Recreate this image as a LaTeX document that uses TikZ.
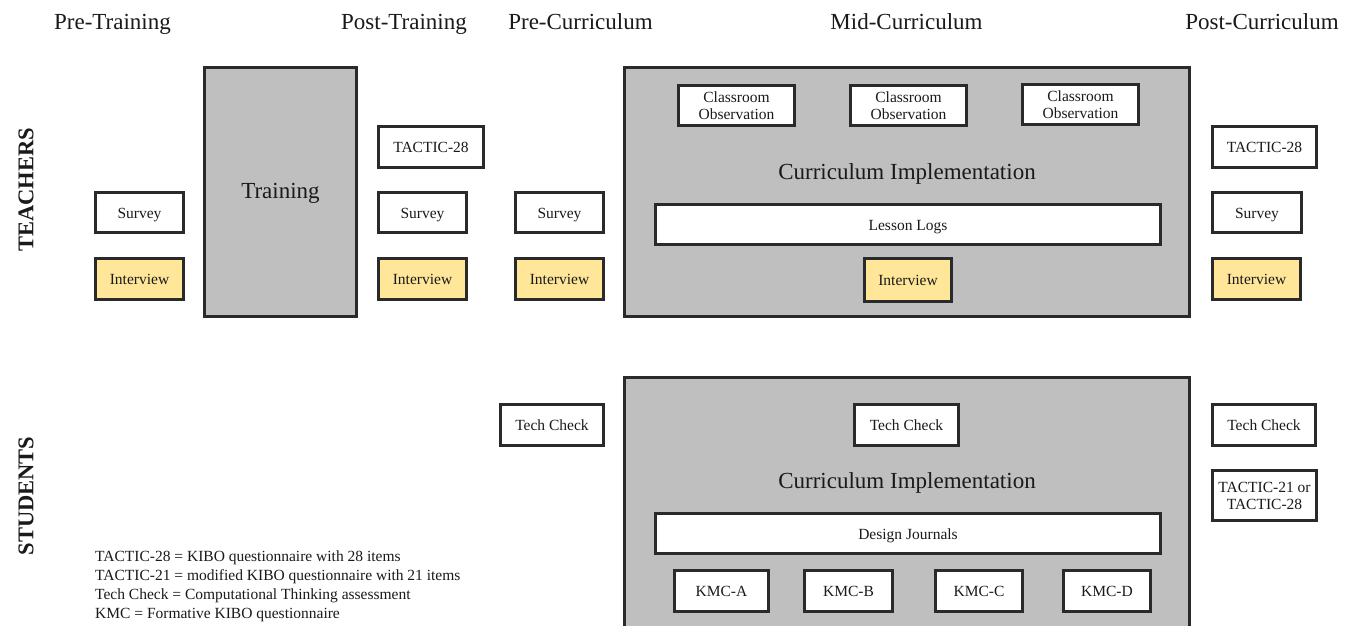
\documentclass[tikz,border=0pt]{standalone}
\usepackage{fontspec}
\setmainfont{Liberation Serif}
\definecolor{edge}{HTML}{2A2A2A}
\definecolor{panel}{HTML}{BFBFBF}
\definecolor{note}{HTML}{FFE699}
\definecolor{ink}{HTML}{1A1A1A}
\tikzset{
  boxbase/.style={draw=edge, line width=3pt, fill=white, rectangle, inner sep=0pt,
    text=ink, align=center, font=\fontsize{15.5}{17}\selectfont},
  % single-line boxes: fixed text box so descenders do not shift the label
  box/.style={boxbase, text height=11pt, text depth=0pt},
  twoline/.style={boxbase},
  yellowbox/.style={box, fill=note},
  phasebox/.style={draw=edge, line width=3pt, fill=panel, rectangle, inner sep=0pt},
  heading/.style={text=ink, font=\fontsize{23}{27}\selectfont, inner sep=0pt,
    text height=16.5pt, text depth=0pt},
  bigtitle/.style={text=ink, font=\fontsize{23}{27}\selectfont, inner sep=0pt,
    text height=15.5pt, text depth=0pt},
  grouplabel/.style={text=ink, font=\fontsize{22.5}{26}\selectfont\bfseries, rotate=90, inner sep=0pt},
}
\begin{document}
\begin{tikzpicture}[x=1pt, y=-1pt]
\clip (0,0) rectangle (1356,625);
\fill[white] (0,0) rectangle (1356,625);

% phase headings
\node[heading] (hPreT)  at (112.5,21) {Pre-Training};
\node[heading] (hPostT) at (404,21)   {Post-Training};
\node[heading] (hPreC)  at (580.5,21) {Pre-Curriculum};
\node[heading] (hMidC)  at (906.5,21) {Mid-Curriculum};
\node[heading] (hPostC) at (1262,21)  {Post-Curriculum};

% group labels
\node[grouplabel] (teachers) at (26,190) {TEACHERS};
\node[grouplabel] (students) at (26,496) {STUDENTS};

% ---------------- teachers ----------------
\node[phasebox, minimum width=152pt, minimum height=249pt] (training) at (280.5,192) {};
\node[bigtitle] (trainingT) at (280.5,191) {Training};

\node[box, minimum width=88pt, minimum height=40pt] (tSurvey1) at (139.5,212.5) {Survey};
\node[yellowbox, minimum width=88pt, minimum height=41pt] (tInt1) at (139.5,279) {Interview};

\node[box, minimum width=105pt, minimum height=41pt] (tTactic1) at (431,147) {TACTIC-28};
\node[box, minimum width=88pt, minimum height=40pt] (tSurvey2) at (422.5,212.5) {Survey};
\node[yellowbox, minimum width=88pt, minimum height=41pt] (tInt2) at (422.5,279) {Interview};

\node[box, minimum width=88pt, minimum height=40pt] (tSurvey3) at (559.5,212.5) {Survey};
\node[yellowbox, minimum width=88pt, minimum height=41pt] (tInt3) at (559.5,279) {Interview};

\node[phasebox, minimum width=565pt, minimum height=249pt] (tImpl) at (907,192) {};
\node[twoline, minimum width=116pt, minimum height=40pt] (obs1) at (736.5,105.5) {Classroom\\Observation};
\node[twoline, minimum width=116pt, minimum height=40pt] (obs2) at (908.5,105.5) {Classroom\\Observation};
\node[twoline, minimum width=116pt, minimum height=40pt] (obs3) at (1080.5,104.5) {Classroom\\Observation};
\node[bigtitle] (tImplT) at (907,172) {Curriculum Implementation};
\node[box, minimum width=505pt, minimum height=40pt] (logs) at (908,224.5) {Lesson Logs};
\node[yellowbox, minimum width=87pt, minimum height=43pt] (tInt4) at (908,280) {Interview};

\node[box, minimum width=104pt, minimum height=41pt] (tTactic2) at (1264.5,147) {TACTIC-28};
\node[box, minimum width=89pt, minimum height=40pt] (tSurvey5) at (1257,212.5) {Survey};
\node[yellowbox, minimum width=88pt, minimum height=41pt] (tInt5) at (1256.5,279) {Interview};

% ---------------- students ----------------
\node[box, minimum width=103pt, minimum height=41pt] (sTech1) at (552,425) {Tech Check};

\draw[edge, line width=3pt, fill=panel] (624.5,640) -- (624.5,377.5) -- (1189.5,377.5) -- (1189.5,640);
\node[box, minimum width=104pt, minimum height=41pt] (sTech2) at (906.5,425) {Tech Check};
\node[bigtitle] (sImplT) at (907,481) {Curriculum Implementation};
\node[box, minimum width=505pt, minimum height=40pt] (journals) at (908,533.5) {Design Journals};
\node[box, minimum width=94pt, minimum height=41pt] (kmcA) at (721.5,591) {KMC-A};
\node[box, minimum width=88pt, minimum height=41pt] (kmcB) at (848.5,591) {KMC-B};
\node[box, minimum width=87pt, minimum height=41pt] (kmcC) at (979,591) {KMC-C};
\node[box, minimum width=87pt, minimum height=41pt] (kmcD) at (1107,591) {KMC-D};

\node[box, minimum width=103pt, minimum height=41pt] (sTech3) at (1264,425) {Tech Check};
\node[twoline, minimum width=104pt, minimum height=50pt] (sTactic) at (1264.5,495.5) {TACTIC-21 or\\TACTIC-28};

% abbreviations
\node[anchor=north west, inner sep=0pt, align=left, text=ink,
      font=\fontsize{15.5}{19}\selectfont] (legend) at (95,551)
  {TACTIC-28 = KIBO questionnaire with 28 items\\
   TACTIC-21 = modified KIBO questionnaire with 21 items\\
   Tech Check = Computational Thinking assessment\\
   KMC = Formative KIBO questionnaire};
\end{tikzpicture}
\end{document}
